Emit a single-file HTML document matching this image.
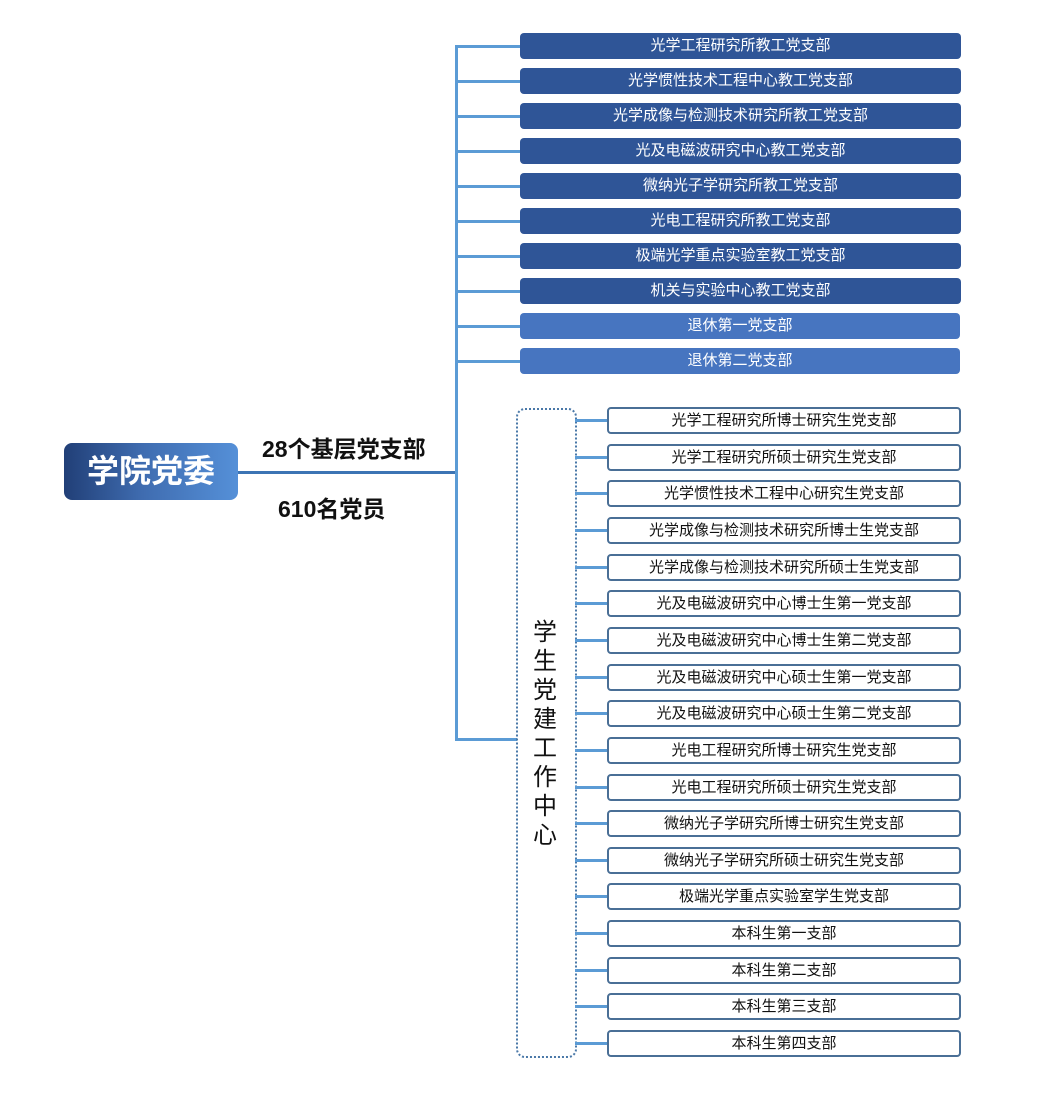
<!DOCTYPE html>
<html><head><meta charset="utf-8"><style>
body{margin:0;width:1058px;height:1096px;background:#fff;position:relative;overflow:hidden;font-family:"Liberation Sans","Noto Sans CJK SC",sans-serif}
.a{position:absolute}
.t{position:absolute;left:520px;width:441px;height:26px;border-radius:4px;background:#2f5597;color:#fff;font-size:15px;line-height:26px;text-align:center}
.t.l{background:#4775c0;width:440px}
.b{position:absolute;left:607px;width:350px;height:23px;border:2px solid #4a6f96;border-radius:4px;background:#fff;color:#111;font-size:15px;line-height:23px;text-align:center}
.h{position:absolute;height:3px;background:#5b9bd5}
</style></head><body>
<div class="a" style="left:64px;top:443px;width:174px;height:57px;border-radius:8px;background:linear-gradient(90deg,#213f77,#3f6cb0 45%,#5590d8);color:#fff;font-size:32px;font-weight:bold;line-height:57px;text-align:center">学院党委</div>
<div class="h" style="left:238px;top:471px;width:220px;background:#3c74b4"></div>
<div class="a" style="left:262px;top:430px;font-size:23px;font-weight:bold;color:#111">28个基层党支部</div>
<div class="a" style="left:278px;top:490px;font-size:23px;font-weight:bold;color:#111">610名党员</div>
<div class="a" style="left:455px;top:45px;width:3px;height:696px;background:#5b9bd5"></div>
<div class="h" style="left:455px;top:738px;width:62px"></div>
<div class="a" style="left:516px;top:408px;width:57px;height:646px;border:2px dotted #4a78a8;border-radius:9px"></div>
<div class="a" style="left:530px;top:618px;width:30px;font-size:24px;line-height:29px;text-align:center;color:#111">学<br>生<br>党<br>建<br>工<br>作<br>中<br>心</div>
<div id="top"></div>
<script>
var T=["光学工程研究所教工党支部","光学惯性技术工程中心教工党支部","光学成像与检测技术研究所教工党支部","光及电磁波研究中心教工党支部","微纳光子学研究所教工党支部","光电工程研究所教工党支部","极端光学重点实验室教工党支部","机关与实验中心教工党支部","退休第一党支部","退休第二党支部"];
var B=["光学工程研究所博士研究生党支部","光学工程研究所硕士研究生党支部","光学惯性技术工程中心研究生党支部","光学成像与检测技术研究所博士生党支部","光学成像与检测技术研究所硕士生党支部","光及电磁波研究中心博士生第一党支部","光及电磁波研究中心博士生第二党支部","光及电磁波研究中心硕士生第一党支部","光及电磁波研究中心硕士生第二党支部","光电工程研究所博士研究生党支部","光电工程研究所硕士研究生党支部","微纳光子学研究所博士研究生党支部","微纳光子学研究所硕士研究生党支部","极端光学重点实验室学生党支部","本科生第一支部","本科生第二支部","本科生第三支部","本科生第四支部"];
var h="";
T.forEach(function(s,i){var c=46+35*i;h+='<div class="h" style="left:455px;top:'+(c-1)+'px;width:66px"></div><div class="t'+(i>7?' l':'')+'" style="top:'+(c-13)+'px">'+s+'</div>';});
B.forEach(function(s,i){var c=420+36.65*i;h+='<div class="h" style="left:575px;top:'+(c-1)+'px;width:33px"></div><div class="b" style="top:'+(c-13)+'px">'+s+'</div>';});
document.getElementById('top').innerHTML=h;
</script>
</body></html>
